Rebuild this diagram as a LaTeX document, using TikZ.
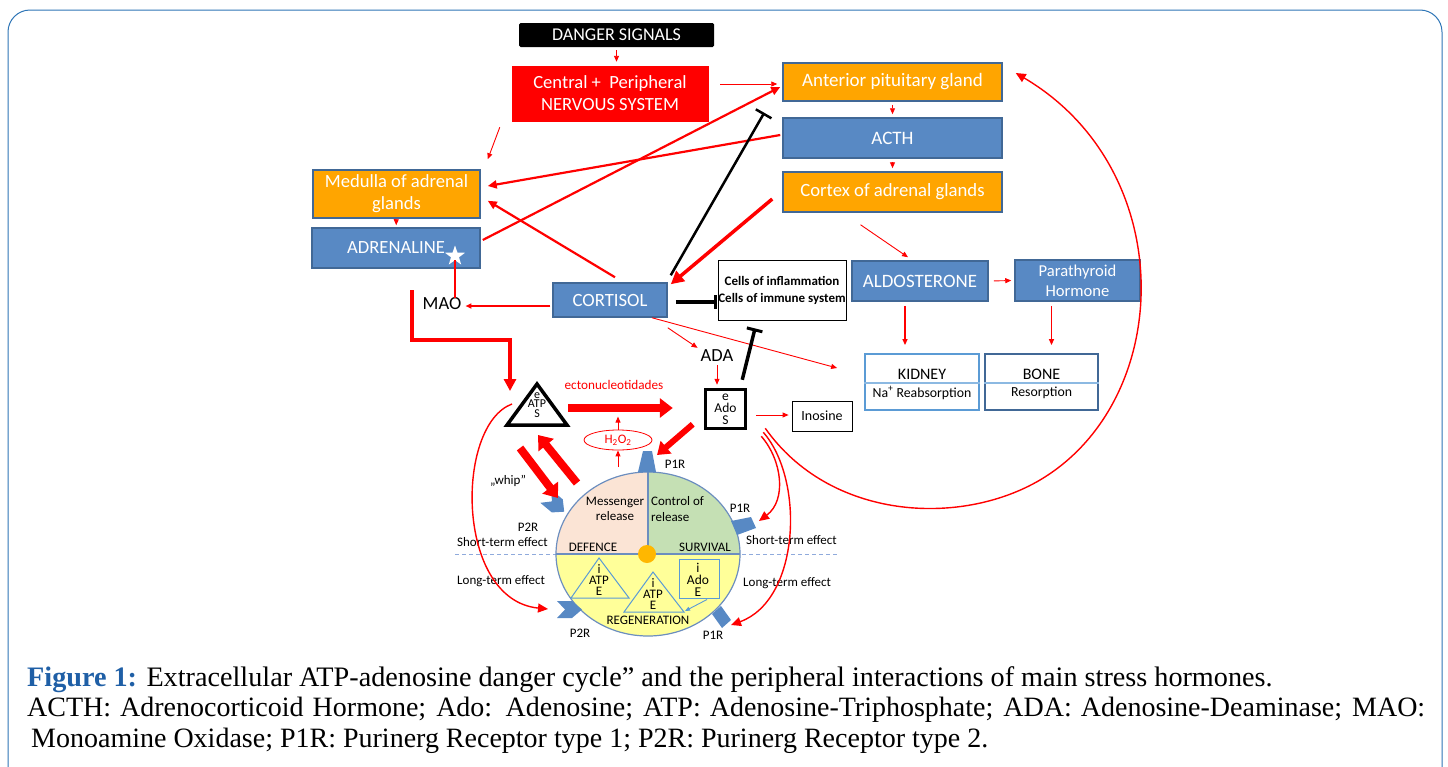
\documentclass[tikz,border=0pt]{standalone}
\usepackage{fontspec}
\setmainfont{Carlito}
\newfontfamily\capfont{Liberation Serif}
\usetikzlibrary{arrows.meta,shapes.geometric,calc}
\definecolor{boxblue}{RGB}{88,137,196}
\definecolor{bord}{RGB}{65,104,150}
\definecolor{orng}{RGB}{255,165,0}
\definecolor{peach}{RGB}{251,228,213}
\definecolor{grn}{RGB}{197,224,180}
\definecolor{ylw}{RGB}{255,255,153}
\definecolor{circc}{RGB}{108,142,191}
\definecolor{lblue}{RGB}{91,155,213}
\definecolor{dashc}{RGB}{143,170,220}
\definecolor{recep}{RGB}{88,137,196}
\definecolor{capblue}{RGB}{31,95,166}
\definecolor{framec}{RGB}{46,117,182}
\newcommand\fsz[2]{\fontsize{#1}{#2}\selectfont}
\begin{document}
\begin{tikzpicture}[x=1pt,y=-1pt,
  hbox/.style={draw=bord, line width=1.5pt, text=white, align=center, inner sep=0pt},
  obox/.style={hbox, fill=orng},
  bbox/.style={hbox, fill=boxblue},
  ra/.style={draw=red, line width=0.9pt, -{Triangle[length=6pt,width=5pt]}},
  rb/.style={draw=red, line width=2.2pt, -{Triangle[length=9pt,width=8pt]}},
  rthick/.style={draw=red, line width=8pt, -{Triangle[length=13pt,width=19pt]}},
  rcurve/.style={draw=red, line width=1.4pt, -{Triangle[length=10pt,width=9pt]}},
  inh/.style={draw=black, line width=2.5pt, -{Bar[width=18pt,line width=2.5pt]}},
  rec/.style={fill=recep, draw=none},
  lab/.style={font=\fsz{13}{15.5}, inner sep=0pt, align=center},
  tiny/.style={font=\fsz{13}{10}, inner sep=0pt, align=center},
]
\useasboundingbox (0,0) rectangle (1448,766);
\clip (0,0) rectangle (1448,766);
\draw[framec, line width=1pt, rounded corners=22pt] (8,10) rectangle (1442,800);

% ---------- top boxes ----------
\node[fill=black, rounded corners=1.5pt, text=white, minimum width=195pt, minimum height=24pt, inner sep=0pt, font=\fsz{18}{20}] (danger) at (616.5,35) {DANGER SIGNALS};
\node[fill=red, draw=red, minimum width=196pt, minimum height=55pt, text=white, align=center, inner sep=0pt, font=\fsz{18.6}{22}] (cns) at (610,93.5) {Central +\ \ Peripheral\\NERVOUS SYSTEM};
\node[obox, minimum width=219pt, minimum height=38pt, font=\fsz{19}{22}] (ant) at (892.5,82) {Anterior pituitary gland};
\node[bbox, minimum width=219pt, minimum height=40pt, font=\fsz{19}{22}] (acth) at (892.5,138) {ACTH};
\node[obox, minimum width=219pt, minimum height=40pt, font=\fsz{18.7}{22}] (cortex) at (892.5,192) {Cortex of adrenal glands};
\node[obox, minimum width=167pt, minimum height=48pt, font=\fsz{18.6}{22}] (medulla) at (396.5,194) {Medulla of adrenal\\glands};
\node[bbox, minimum width=168pt, minimum height=40pt, font=\fsz{18.6}{22}] (adr) at (396,248) {ADRENALINE};
\node[star, star points=5, star point ratio=2.5, fill=white, minimum size=21pt, inner sep=0pt] (star) at (455,256) {};
\node[bbox, minimum width=114pt, minimum height=34pt, font=\fsz{18.7}{22}] (cort) at (610,300) {CORTISOL};
\node[draw=black, line width=0.8pt, fill=white, minimum width=128pt, minimum height=60pt, align=center, inner sep=0pt, font=\bfseries\fsz{13}{17}] (cells) at (782,290) {Cells of inflammation\\Cells of immune system};
\node[bbox, minimum width=136pt, minimum height=40pt, font=\fsz{18.9}{22}] (aldo) at (920,281) {ALDOSTERONE};
\node[bbox, minimum width=125pt, minimum height=41pt, font=\fsz{16.6}{20}] (para) at (1077.5,280.5) {Parathyroid\\Hormone};
\node[draw=lblue, line width=1.8pt, minimum width=114pt, minimum height=56pt, inner sep=0pt] (kidney) at (922,382) {};
\node[draw=bord, line width=1.8pt, minimum width=113pt, minimum height=56pt, inner sep=0pt] (bone) at (1041.5,382) {};
\draw[lblue!70, line width=1.2pt] (kidney.west |- 0,383) -- (kidney.east |- 0,383);
\draw[lblue!70, line width=1.2pt] (bone.west |- 0,383) -- (bone.east |- 0,383);
\node[font=\fsz{16}{18}, inner sep=0pt] (kidT) at (922,374) {KIDNEY};
\node[font=\fsz{13.8}{16}, inner sep=0pt] (kidB) at (922,393) {Na\textsuperscript{+} Reabsorption};
\node[font=\fsz{16}{18}, inner sep=0pt] (boneT) at (1041.5,374) {BONE};
\node[font=\fsz{13.8}{16}, inner sep=0pt] (boneB) at (1041.5,393) {Resorption};

\node[font=\fsz{18.5}{20}, inner sep=0pt] (mao) at (442,304) {MAO};
\node[font=\fsz{18.5}{20}, inner sep=0pt] (ada) at (717,356) {ADA};
\node[draw=black, line width=0.8pt, minimum width=60pt, minimum height=30pt, inner sep=0pt, font=\fsz{14}{15}] (inosine) at (822,416) {Inosine};
\node[draw=black, line width=3.5pt, minimum width=40pt, minimum height=39pt, inner sep=0pt, align=center, font=\fsz{13.5}{12}] (eado) at (725.5,409) {e\\Ado\\S};

% eATPS triangle
\coordinate (tA) at (537,384);
\coordinate (tL) at (507,425);
\coordinate (tR) at (567,425);
\draw[black, line width=3.5pt] (tA) -- (tL) -- (tR) -- cycle;
\node[tiny, font=\fsz{12}{9.5}] (atp) at (537,405) {e\\ATP\\S};

\node[font=\fsz{13.2}{15}, text=red, inner sep=0pt] (ecto) at (614,385) {ectonucleotidades};
\node[ellipse, draw=red, line width=0.8pt, minimum width=68pt, minimum height=20pt, inner sep=0pt, text=red, font=\fsz{13}{14}] (h2o2) at (618,440) {H\textsubscript{2}O\textsubscript{2}};

% ---------- circle ----------
\draw[dashc, line width=1pt, dash pattern=on 4pt off 3pt] (455,554) -- (838,554);
\begin{scope}[shift={(648,554)}, y=1pt]
  \fill[ylw] (-92,0) arc[start angle=180, end angle=360, x radius=92, y radius=82] -- cycle;
  \fill[peach] (0,0) -- (-92,0) arc[start angle=180, end angle=90, x radius=92, y radius=82] -- cycle;
  \fill[grn] (0,0) -- (0,82) arc[start angle=90, end angle=0, x radius=92, y radius=82] -- cycle;
  \draw[circc, line width=1.2pt] (0,0) ellipse[x radius=92, y radius=82];
  \draw[circc, line width=1.2pt] (-92,0) -- (92,0) (0,0) -- (0,82);
\end{scope}
\node[circle, fill=orng!80!yellow, minimum size=18pt, inner sep=0pt] (dot) at (647,554) {};
\draw[lblue, line width=1pt] (599,558) -- (571,598) -- (629,598) -- cycle;
\draw[lblue, line width=1pt] (653,572) -- (624,612) -- (684,612) -- cycle;
\node[draw=lblue, line width=1pt, minimum width=40pt, minimum height=39pt, inner sep=0pt] (iado) at (699,578.5) {};
\node[tiny, font=\fsz{13}{11}] (iatp1) at (599,580) {i\\ATP\\E};
\node[tiny, font=\fsz{13}{11}] (iatp2) at (653,594) {i\\ATP\\E};
\node[tiny, font=\fsz{13.5}{12}] (iadot) at (698,580) {i\\Ado\\E};
\coordinate (tri2r) at (685,611);
\draw[lblue, line width=0.9pt, -{Triangle[length=5pt,width=4pt]}] ($(iado.south)+(8,1)$) -- (tri2r);

\node[lab] (mess) at (615,509) {Messenger\\release};
\node[lab, align=left, anchor=west] (ctrl) at (651,509) {Control of\\release};
\node[lab] (def) at (593,547) {DEFENCE};
\node[lab] (surv) at (705,547) {SURVIVAL};
\node[lab] (regen) at (648,620) {REGENERATION};

% receptors
\fill[rec] (643,451) -- (652,451) -- (656,472) -- (638,472) -- cycle;
\fill[rec] (731,521) -- (751,517) -- (756,528) -- (737,535) -- cycle;
\fill[rec] (712,614) -- (721,606) -- (731,620) -- (722,628) -- cycle;
\fill[rec] (551.3,489.8) -- (562.8,499.4) -- (564.2,511.7) -- (551.8,512.4) -- (540.3,502.8) -- (551.9,501.4) -- cycle;
\fill[rec] (557,601) -- (572,601) -- (582,609.5) -- (572,618) -- (557,618) -- (565,609.5) -- cycle;
\coordinate (p2rB) at (548,609);
\coordinate (p1rR) at (759,521);
\coordinate (p1rB) at (731,625);
\coordinate (p1rT) at (657,455);
\coordinate (p2rT) at (558,498);

\node[lab] (l1) at (675,464) {P1R};
\node[lab] (l2) at (740,508) {P1R};
\node[lab] (l3) at (713,635) {P1R};
\node[lab] (l4) at (528,527) {P2R};
\node[lab] (l5) at (580,633) {P2R};
\node[lab, anchor=east] (ls) at (548,542) {Short-term effect};
\node[lab, anchor=west] (ll) at (457,581) {Long-term effect};
\node[lab, anchor=west] (rs) at (746,540) {Short-term effect};
\node[lab, anchor=west] (rl) at (743,583) {Long-term effect};
\node[lab] (whip) at (508,481) {„whip”};

% ---------- connectors ----------
\draw[ra, shorten <=3pt, shorten >=4pt] (danger.south) -- (danger.south |- cns.north);
\draw[ra, shorten <=3pt, shorten >=3pt] (ant) -- (acth);
\draw[ra, shorten <=3pt, shorten >=3pt] (acth) -- (cortex);
\draw[ra, shorten <=2pt, shorten >=2pt] (medulla) -- (adr);
\draw[ra] ($(cns.east)+(12,-9.5)$) -- ($(ant.west)+(-5,2)$);
\draw[ra] ($(cns.south west)+(-12,6)$) -- ($(medulla.north east)+(7,-10)$);
\draw[rb] ($(adr.east)+(2,-8)$) -- ($(ant.west)+(-2,5)$);
\draw[rb] ($(acth.west)+(-2,-3)$) -- ($(medulla.east)+(7,-8)$);
\draw[rb] ($(cort.north)+(5,-5)$) -- ($(medulla.south east)+(7,-18)$);
\draw[red, line width=2pt] (star.south) -- (star.south |- mao.north);
\draw[ra, line width=1.8pt] ($(cort.west)+(-2,6)$) -- ($(mao.east)+(4,2)$);
\coordinate (maoS) at (412,290);
\coordinate (atpIn) at (510,391);
\draw[red, line width=3.5pt, -{Triangle[length=12pt,width=12pt]}] (maoS) -- (412,340) -| (atpIn);

\draw[red, line width=3.5pt, -{Triangle[length=13pt,width=13pt]}] ($(cortex.west)+(-10,7)$) -- ($(cort.north east)+(3,2)$);
\draw[ra] ($(cortex.south)+(-32,12)$) -- ($(aldo.north)+(-12,-3)$);
\draw[ra, shorten <=5pt, shorten >=3pt] (aldo.east) -- (para.west);
\draw[ra, line width=1.3pt] ($(aldo.south)+(-15,4)$) -- ($(kidney.north)+(-17,-8)$);
\draw[ra, line width=1.3pt] ($(para.south)+(-26,4)$) -- ($(bone.north)+(10,-8)$);
\draw[ra] ($(cort.south east)+(0,10)$) -- ($(ada.north west)+(-3,-2)$);
\draw[ra] ($(cort.south)+(42,0)$) -- ($(kidney.west)+(-27,-14)$);
\draw[ra, shorten <=3pt, shorten >=3pt] (ada.south) -- (ada.south |- eado.north);
\draw[ra] ($(eado.east)+(9,6)$) -- ($(inosine.west)+(-3,-1)$);

\draw[inh] ($(cort.north east)+(3,-7)$) -- ($(ant.south west)+(-18,11)$);
\draw[inh, line width=4pt, -{Bar[width=14pt,line width=3pt]}] ($(cort.east)+(8,2)$) -- ($(cells.west)+(-1,12)$);
\draw[inh, line width=3.5pt, -{Bar[width=16pt,line width=3pt]}] ($(eado.north east)+(-5,-8)$) -- ($(cells.south)+(-27,8)$);

\draw[rthick] ($(tR)+(1,-17)$) -- ($(eado.west)+(-31,-1)$);
\draw[ra] (618,467) -- (h2o2.south);
\draw[ra] (h2o2.north) -- ($(h2o2.north)+(0,-13)$);
\draw[rthick] ($(tL)+(13,23)$) -- (p2rT);
\draw[rthick] (577,483) -- ($(tA)+(1,51)$);
\draw[rthick, line width=6pt, -{Triangle[length=12pt,width=16pt]}] ($(eado.south west)+(-11,-6)$) -- (p1rT);

\draw[rcurve] ($(tL)+(5,-21)$) .. controls (455,425) and (455,600) .. (p2rB);
\draw[rcurve] ($(eado.south east)+(14,6)$) .. controls (782,460) and (787,500) .. (p1rR);
\draw[rcurve] ($(eado.south east)+(16,2)$) .. controls (805,480) and (800,600) .. (p1rB);
\draw[rcurve] ($(eado.south east)+(18,-2)$) .. controls (830,520) and (960,527) .. (1040,480) .. controls (1175,400) and (1180,170) .. ($(ant.east)+(13,-9)$);

% ---------- caption ----------
\node[anchor=base west, inner sep=0pt, font=\capfont\fsz{28.2}{30}] (cap1) at (27,686) {{\color{capblue}\bfseries Figure 1:} Extracellular ATP-adenosine danger cycle” and the peripheral interactions of main stress hormones.};
\node[anchor=base west, inner sep=0pt, font=\capfont\fsz{28}{30}] (cap2) at (27,716) {\makebox[1398pt][s]{ACTH: Adrenocorticoid Hormone; Ado: Adenosine; ATP: Adenosine-Triphosphate; ADA: Adenosine-Deaminase; MAO:}};
\node[anchor=base west, inner sep=0pt, font=\capfont\fsz{28}{30}] (cap3) at (31,747) {Monoamine Oxidase; P1R: Purinerg Receptor type 1; P2R: Purinerg Receptor type 2.};
\end{tikzpicture}
\end{document}
